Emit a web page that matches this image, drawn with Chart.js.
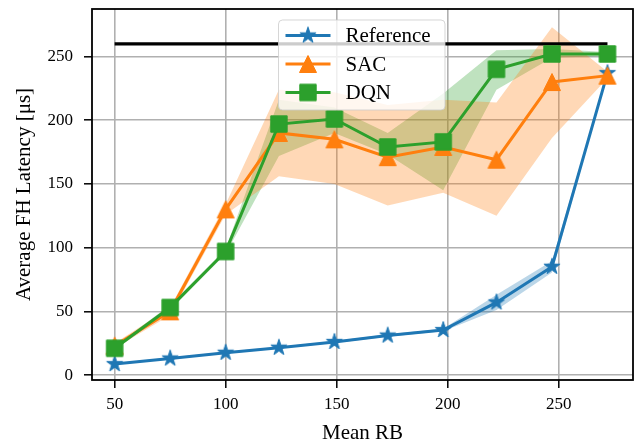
<!DOCTYPE html>
<html><head><meta charset="utf-8">
<script src="https://cdn.jsdelivr.net/npm/chart.js@4.4.0/dist/chart.umd.min.js"></script>
<style>html,body{margin:0;padding:0;background:#fff;overflow:hidden}</style>
</head><body>
<canvas id="c" width="637" height="443" style="display:block;width:637px;height:443px"></canvas>
<script>
// ---- data ----
const meanRB   = [50, 75, 100, 124, 149, 173, 198, 222, 247, 272];
const refMean  = [8.6, 13, 17.5, 21.5, 26, 31, 35.3, 57, 85, 237];
const refLow   = [8, 12.3, 16.8, 20.8, 25.2, 30, 34.3, 51, 80.5, 236];
const refHigh  = [9.2, 13.7, 18.2, 22.2, 26.8, 32, 36.3, 63, 89.5, 238];
const sacMean  = [23, 50, 130, 190, 185, 171, 179, 169, 230, 235];
const sacLow   = [21, 47, 126, 156, 150, 133, 143, 125, 186, 233];
const sacHigh  = [25, 53, 134, 224, 222, 212, 216, 214, 273, 238];
const dqnMean  = [21, 53, 97, 197, 201, 179, 183, 240, 252, 252];
const dqnLow   = [19.5, 51, 95, 172, 190, 173, 145, 224, 249, 250.5];
const dqnHigh  = [22.5, 55, 99, 216, 210, 190, 221, 255, 256, 253.5];
const limitX   = [50, 272];
const limitY   = [260, 260];
const xTicks   = [50, 100, 150, 200, 250];
const yTicks   = [0, 50, 100, 150, 200, 250];
const seriesNames = ['Reference', 'SAC', 'DQN'];

const C0 = '#1f77b4', C1 = '#ff7f0e', C2 = '#2ca02c';
const FONT = '"Liberation Serif", "Times New Roman", serif';

function pts(ys){ return meanRB.map((x,i)=>({x:x, y:ys[i]})); }

function markerPath(ctx, kind){
  ctx.beginPath();
  if (kind === 'star'){
    const R = 8.5, r = R*0.382;
    for (let i=0;i<10;i++){
      const a = -Math.PI/2 + i*Math.PI/5, rr = (i%2)? r : R;
      const px = rr*Math.cos(a), py = rr*Math.sin(a);
      i ? ctx.lineTo(px,py) : ctx.moveTo(px,py);
    }
  } else if (kind === 'tri'){
    const h = 8.5;
    ctx.moveTo(0,-h); ctx.lineTo(-h,h); ctx.lineTo(h,h);
  } else {
    const h = 8.2; ctx.rect(-h,-h,2*h,2*h);
  }
  ctx.closePath();
}
function makeMarker(kind, color){
  const c = document.createElement('canvas'); c.width = 24; c.height = 24;
  const ctx = c.getContext('2d'); ctx.translate(12,12);
  markerPath(ctx, kind); ctx.fillStyle = color; ctx.fill();
  ctx.lineWidth = 1; ctx.strokeStyle = color; ctx.lineJoin='miter'; ctx.stroke();
  return c;
}
const mStar = makeMarker('star', C0), mTri = makeMarker('tri', C1), mSq = makeMarker('sq', C2);

function band(ys, color, fill){
  return {type:'line', data: pts(ys), borderWidth:0, borderColor:'rgba(0,0,0,0)',
    backgroundColor: color, pointRadius:0, fill: fill, order:10, tension:0};
}
function series(label, ys, color, marker, order){
  return {type:'line', label: label, data: pts(ys), borderColor: color, backgroundColor: color,
    borderWidth: 3, pointStyle: marker, pointRadius: 9, fill:false, order: order, tension:0};
}

const datasets = [
  band(refHigh, 'rgba(31,119,180,0.3)', '+1'),
  band(refLow,  'rgba(31,119,180,0.3)', false),
  band(sacHigh, 'rgba(255,127,14,0.3)', '+1'),
  band(sacLow,  'rgba(255,127,14,0.3)', false),
  band(dqnHigh, 'rgba(44,160,44,0.3)', '+1'),
  band(dqnLow,  'rgba(44,160,44,0.3)', false),
  {type:'line', data: limitX.map((x,i)=>({x:x,y:limitY[i]})), borderColor:'#000', borderWidth:3.3,
    pointRadius:0, fill:false, order:5},
  series(seriesNames[0], refMean, C0, mStar, 3),
  series(seriesNames[1], sacMean, C1, mTri, 2),
  series(seriesNames[2], dqnMean, C2, mSq, 1)
];

const framePlugin = {
  id:'frame',
  afterDatasetsDraw(chart){
    const {ctx, chartArea:a} = chart;
    ctx.save();
    ctx.strokeStyle = '#000'; ctx.lineWidth = 1.8;
    ctx.strokeRect(a.left, a.top, a.right-a.left, a.bottom-a.top);
    ctx.restore();
  }
};

const legendPlugin = {
  id:'mplLegend',
  afterDatasetsDraw(chart){
    const {ctx, chartArea:a} = chart;
    const bx = a.left + 186.5, by = a.top + 11, bw = 166.5, bh = 90, r = 4;
    ctx.save();
    ctx.beginPath();
    ctx.moveTo(bx+r, by); ctx.lineTo(bx+bw-r, by); ctx.arcTo(bx+bw, by, bx+bw, by+r, r);
    ctx.lineTo(bx+bw, by+bh-r); ctx.arcTo(bx+bw, by+bh, bx+bw-r, by+bh, r);
    ctx.lineTo(bx+r, by+bh); ctx.arcTo(bx, by+bh, bx, by+bh-r, r);
    ctx.lineTo(bx, by+r); ctx.arcTo(bx, by, bx+r, by, r); ctx.closePath();
    ctx.fillStyle = 'rgba(255,255,255,0.8)'; ctx.fill();
    ctx.strokeStyle = 'rgba(204,204,204,0.8)'; ctx.lineWidth = 1; ctx.stroke();
    const items = [[C0, mStar],[C1, mTri],[C2, mSq]];
    const rows = [by+15.5, by+44, by+72.5];
    items.forEach((it, i)=>{
      const y = rows[i];
      ctx.beginPath(); ctx.moveTo(bx+7, y); ctx.lineTo(bx+52, y);
      ctx.strokeStyle = it[0]; ctx.lineWidth = 3; ctx.stroke();
      ctx.drawImage(it[1], bx+29.5-12, y-12);
      ctx.fillStyle = '#000'; ctx.font = '21px ' + FONT; ctx.textBaseline = 'middle'; ctx.textAlign='left';
      ctx.fillText(seriesNames[i], bx+67, y+1);
    });
    ctx.restore();
  }
};

Chart.defaults.color = '#000';
Chart.defaults.font.family = FONT;

new Chart(document.getElementById('c'), {
  type:'line',
  data:{datasets: datasets},
  plugins:[legendPlugin, framePlugin],
  options:{
    responsive:false, animation:false, devicePixelRatio:1,
    layout:{autoPadding:false, padding:{left:0, right:4, top:9, bottom:0}},
    plugins:{legend:{display:false}, tooltip:{enabled:false}, filler:{drawTime:'beforeDatasetsDraw'}},
    scales:{
      x:{type:'linear', min:39.8, max:283.5,
        afterBuildTicks(s){ s.ticks = xTicks.map(v=>({value:v})); },
        afterFit(s){ s.height = 63; s.paddingLeft = s.paddingRight = s.paddingTop = s.paddingBottom = 0; },
        grid:{color:'#b0b0b0', lineWidth:1.6, tickLength:8, tickColor:'#000', tickWidth:1.5, drawTicks:true},
        border:{display:false},
        ticks:{font:{size:17, family:FONT}, padding:6, maxRotation:0, autoSkip:false},
        title:{display:true, text:'Mean RB', font:{size:21, family:FONT, lineHeight:1}, padding:{top:0, bottom:-1}}
      },
      y:{type:'linear', min:-3.9, max:287.3,
        afterBuildTicks(s){ s.ticks = yTicks.map(v=>({value:v})); },
        afterFit(s){ s.width = 92; s.paddingLeft = s.paddingRight = s.paddingTop = s.paddingBottom = 0; },
        grid:{color:'#b0b0b0', lineWidth:1.6, tickLength:8, tickColor:'#000', tickWidth:1.5, drawTicks:true},
        border:{display:false},
        ticks:{font:{size:17, family:FONT}, padding:11, autoSkip:false},
        title:{display:true, text:'Average FH Latency [μs]', font:{size:21, family:FONT, lineHeight:1}, padding:{top:14, bottom:0}}
      }
    }
  }
});
</script>
</body></html>
